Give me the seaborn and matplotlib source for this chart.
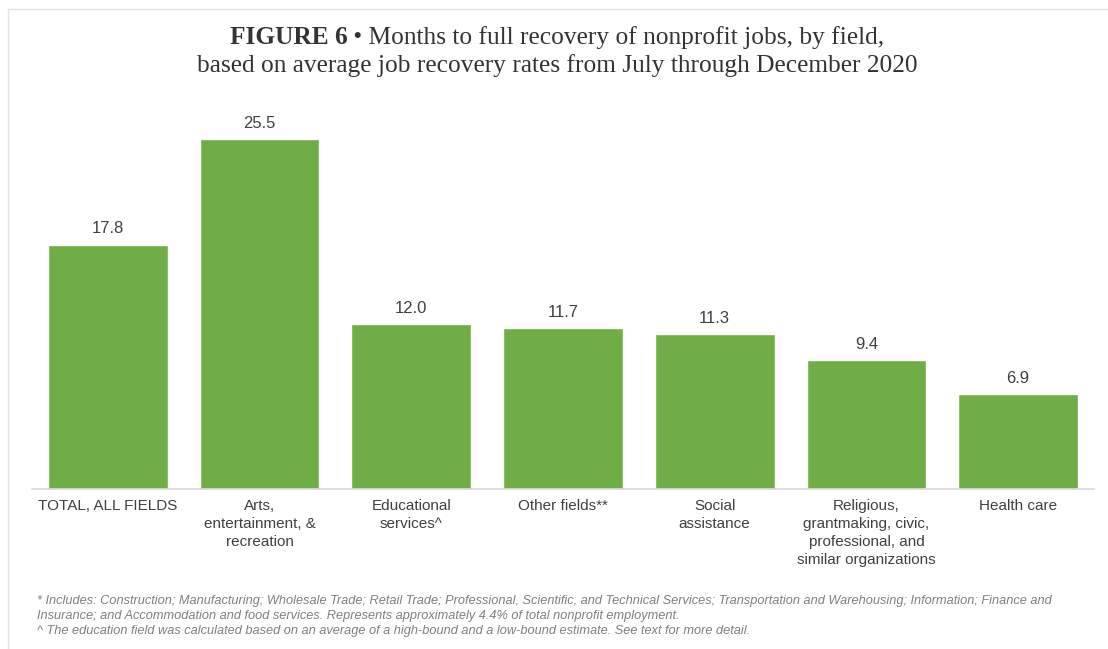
import matplotlib
matplotlib.use("Agg")
import matplotlib.pyplot as plt
import seaborn as sns
import pandas as pd
from matplotlib.lines import Line2D

# --- Chart data ---
fields = [
    "TOTAL, ALL FIELDS",
    "Arts,\nentertainment, &\nrecreation",
    "Educational\nservices^",
    "Other fields**",
    "Social\nassistance",
    "Religious,\ngrantmaking, civic,\nprofessional, and\nsimilar organizations",
    "Health care",
]
months = [17.8, 25.5, 12.0, 11.7, 11.3, 9.4, 6.9]

title_bold = "FIGURE 6"
title_rest = " \u2022 Months to full recovery of nonprofit jobs, by field,"
title_line2 = "based on average job recovery rates from July through December 2020"
footnotes = [
    "* Includes: Construction; Manufacturing; Wholesale Trade; Retail Trade; Professional, Scientific, and Technical Services; Transportation and Warehousing; Information; Finance and",
    "Insurance; and Accommodation and food services. Represents approximately 4.4% of total nonprofit employment.",
    "^ The education field was calculated based on an average of a high-bound and a low-bound estimate. See text for more detail.",
]

df = pd.DataFrame({"field": fields, "months": months})

sns.set_theme(style="white")
plt.rcParams["font.family"] = ["Liberation Sans", "DejaVu Sans"]

fig = plt.figure(figsize=(11.08, 6.49), dpi=100)
ax = fig.add_axes([32 / 1108, 1 - 489 / 649, 1062 / 1108, 384 / 649])

bar_green = "#70AD47"
sns.barplot(data=df, x="field", y="months", color=bar_green, saturation=1,
            width=0.79, ax=ax)

ax.set_ylim(0, 384 / 13.73)
ax.set_xlim(-0.5, len(fields) - 0.5)
ax.set_xlabel("")
ax.set_ylabel("")
ax.set_yticks([])
for side in ["top", "right", "left"]:
    ax.spines[side].set_visible(False)
ax.spines["bottom"].set_color("#D9D9D9")
ax.spines["bottom"].set_linewidth(1.2)
ax.tick_params(axis="x", length=0, pad=7, labelsize=11, labelcolor="#404040")
for lbl in ax.get_xticklabels():
    lbl.set_verticalalignment("top")
    lbl.set_multialignment("center")
    lbl.set_linespacing(1.38)

for container in ax.containers:
    ax.bar_label(container, fmt="%.1f", padding=6, fontsize=12, color="#404040")

# title: bold "FIGURE 6" followed by regular text, centred together
serif = ["Liberation Serif", "DejaVu Serif"]
t1 = fig.text(0, 1 - 38 / 649, title_bold, fontsize=18.3, fontweight="bold",
              family=serif, color="#333333", va="center")
t2 = fig.text(0, 1 - 38 / 649, title_rest, fontsize=18.3, family=serif,
              color="#333333", va="center")
fig.canvas.draw()
r = fig.canvas.get_renderer()
w1 = t1.get_window_extent(r).width
w2 = t2.get_window_extent(r).width
x0 = (557 - (w1 + w2) / 2) / 1108
t1.set_x(x0)
t2.set_x(x0 + w1 / 1108)
fig.text(557 / 1108, 1 - 66 / 649, title_line2, fontsize=18.3, family=serif,
         color="#333333", ha="center", va="center")

# footnotes
for i, line in enumerate(footnotes):
    fig.text(37 / 1108, 1 - (601 + 15 * i) / 649, line, fontsize=9.2,
             style="italic", color="#7F7F7F", va="center")

# light frame on top and left edges
fig.add_artist(Line2D([8 / 1108, 8 / 1108], [0, 1 - 9 / 649], transform=fig.transFigure,
                      color="#E3E3E3", linewidth=1))
fig.add_artist(Line2D([8 / 1108, 1], [1 - 9 / 649, 1 - 9 / 649], transform=fig.transFigure,
                      color="#E3E3E3", linewidth=1))

fig.savefig("out.png", dpi=100)
